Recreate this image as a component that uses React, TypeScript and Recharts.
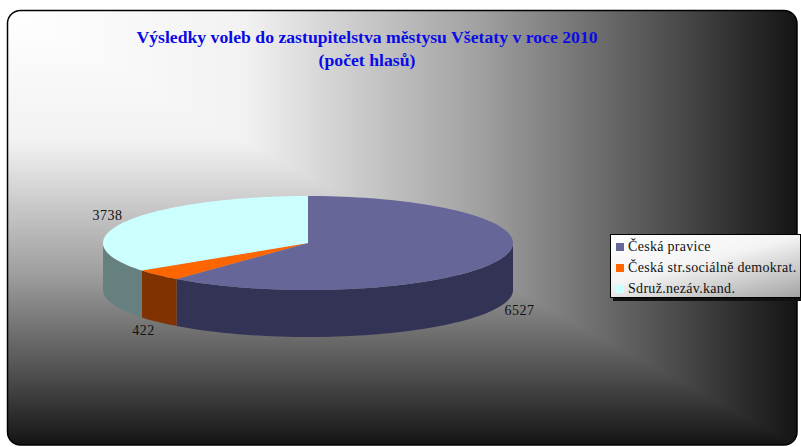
import { Legend, Pie, PieChart } from "recharts";

const names = ["Česká pravice", "Česká str.sociálně demokrat.", "Sdruž.nezáv.kand."];
const votes = [6527, 422, 3738];
const topColors = ["#666699", "#FF6600", "#CCFFFF"];
const sideColors = ["#333355", "#803300", "#668080"];

const W = 801;
const H = 447;
const TILT = 47 / 205;
const DEPTH = 47;

// frame of the chart area (rounded box with corner gradient)
const FX0 = 7.5;
const FY0 = 10.5;
const FX1 = 797;
const FY1 = 445;

const data = names.map((name, i) => ({ name, value: votes[i], fill: topColors[i] }));

function ellipsePoints(cx: number, cy: number, rx: number, ry: number, a0: number, a1: number, dy = 0) {
  const pts: string[] = [];
  const n = Math.max(2, Math.ceil(Math.abs(a1 - a0) / 2));
  for (let i = 0; i <= n; i++) {
    const a = ((a0 + ((a1 - a0) * i) / n) * Math.PI) / 180;
    pts.push(`${(cx + rx * Math.cos(a)).toFixed(2)},${(cy - ry * Math.sin(a) + dy).toFixed(2)}`);
  }
  return pts;
}

function Slice(props: any) {
  const { cx, cy, outerRadius, startAngle, endAngle, fill } = props;
  const name = props.name ?? props.payload?.name;
  const side = sideColors[names.indexOf(name)] ?? "#444";
  const rx = outerRadius;
  const ry = outerRadius * TILT;
  const lo = Math.min(startAngle, endAngle);
  const hi = Math.max(startAngle, endAngle);

  const walls: string[] = [];
  for (let k = -2; k <= 1; k++) {
    const a = Math.max(lo, -180 + 360 * k);
    const b = Math.min(hi, 360 * k);
    if (b > a) {
      const top = ellipsePoints(cx, cy, rx, ry, a, b);
      const bottom = ellipsePoints(cx, cy, rx, ry, b, a, DEPTH);
      walls.push(`M${top.join(" L")} L${bottom.join(" L")} Z`);
    }
  }
  const topPath = `M${cx},${cy} L${ellipsePoints(cx, cy, rx, ry, lo, hi).join(" L")} Z`;

  return (
    <g>
      {walls.map((d, i) => (
        <path key={i} d={d} fill={side} stroke="none" />
      ))}
      <path d={topPath} fill={fill} stroke="none" />
    </g>
  );
}

function SliceLabel(props: any) {
  const { cx, cy, midAngle, outerRadius, value } = props;
  const a = (midAngle * Math.PI) / 180;
  const s = Math.sin(a);
  const x = cx + (outerRadius + 20) * Math.cos(a);
  const y = cy - (outerRadius * TILT + 13) * s + (s < 0 ? DEPTH : 0);
  return (
    <text x={x} y={y} textAnchor="middle" dominantBaseline="central" fontFamily="Liberation Serif" fontSize={14} fill="#111" letterSpacing={0.5}>
      {value}
    </text>
  );
}

function LegendBox() {
  return (
    <div
      style={{
        width: 191,
        height: 64,
        boxSizing: "border-box",
        border: "1px solid #000",
        boxShadow: "3px 3px 0 #111",
        background: "linear-gradient(165deg, #ffffff 0%, #f4f4f4 45%, #a4a4a4 100%)",
        padding: "1px 0 0 5px",
        fontFamily: "Liberation Serif",
        fontSize: 14,
        color: "#111",
        letterSpacing: 0.3,
      }}
    >
      {names.map((n, i) => (
        <div key={n} style={{ display: "flex", alignItems: "center", height: 21 }}>
          <span style={{ width: 8, height: 8, background: topColors[i], marginRight: 4, flex: "none" }} />
          <span style={{ whiteSpace: "nowrap" }}>{n}</span>
        </div>
      ))}
    </div>
  );
}

const bgStops = [
  { o: 0, c: "#ffffff" },
  { o: 0.3, c: "#f2f2f2" },
  { o: 0.6, c: "#a0a0a0" },
  { o: 0.85, c: "#4a4a4a" },
  { o: 1, c: "#141414" },
];

export default function App() {
  return (
    <div style={{ position: "absolute", left: 0, top: 0, width: W, height: H, background: "#fff" }}>
      <svg width={W} height={H} style={{ position: "absolute", left: 0, top: 0 }}>
        <defs>
          <linearGradient id="bgx" gradientUnits="userSpaceOnUse" x1={FX0} y1={0} x2={FX1} y2={0}>
            {bgStops.map((s) => (
              <stop key={s.o} offset={s.o} stopColor={s.c} />
            ))}
          </linearGradient>
          <linearGradient id="bgy" gradientUnits="userSpaceOnUse" x1={0} y1={FY0} x2={0} y2={FY1}>
            {bgStops.map((s) => (
              <stop key={s.o} offset={s.o} stopColor={s.c} />
            ))}
          </linearGradient>
          <clipPath id="frame">
            <rect x={FX0} y={FY0} width={FX1 - FX0} height={FY1 - FY0} rx={13} />
          </clipPath>
        </defs>
        <g clipPath="url(#frame)">
          <rect x={FX0} y={FY0} width={FX1 - FX0} height={FY1 - FY0} fill="url(#bgy)" />
          <polygon points={`${FX0},${FY0} ${FX1},${FY0} ${FX1},${FY1}`} fill="url(#bgx)" />
        </g>
        <rect x={FX0} y={FY0} width={FX1 - FX0} height={FY1 - FY0} rx={13} fill="none" stroke="#000" strokeWidth={1.5} />
        <text x={367} y={43} textAnchor="middle" fontFamily="Liberation Serif" fontWeight="bold" fontSize={17.7} fill="#0a0ae6">
          Výsledky voleb do zastupitelstva městysu Všetaty v roce 2010
        </text>
        <text x={367} y={65.5} textAnchor="middle" fontFamily="Liberation Serif" fontWeight="bold" fontSize={17.7} fill="#0a0ae6">
          (počet hlasů)
        </text>
      </svg>
      <div style={{ position: "absolute", left: 0, top: 0 }}>
        <PieChart width={W} height={H} margin={{ top: 0, right: 0, bottom: 0, left: 0 }}>
          <Pie
            data={data}
            dataKey="value"
            nameKey="name"
            cx={308}
            cy={243}
            outerRadius={205}
            startAngle={90}
            endAngle={-270}
            stroke="none"
            shape={Slice}
            activeShape={Slice}
            inactiveShape={Slice}
            label={SliceLabel}
            labelLine={false}
            isAnimationActive={false}
          />
          <Legend content={<LegendBox />} wrapperStyle={{ position: "absolute", left: 610, top: 234, width: 194 }} />
        </PieChart>
      </div>
    </div>
  );
}
